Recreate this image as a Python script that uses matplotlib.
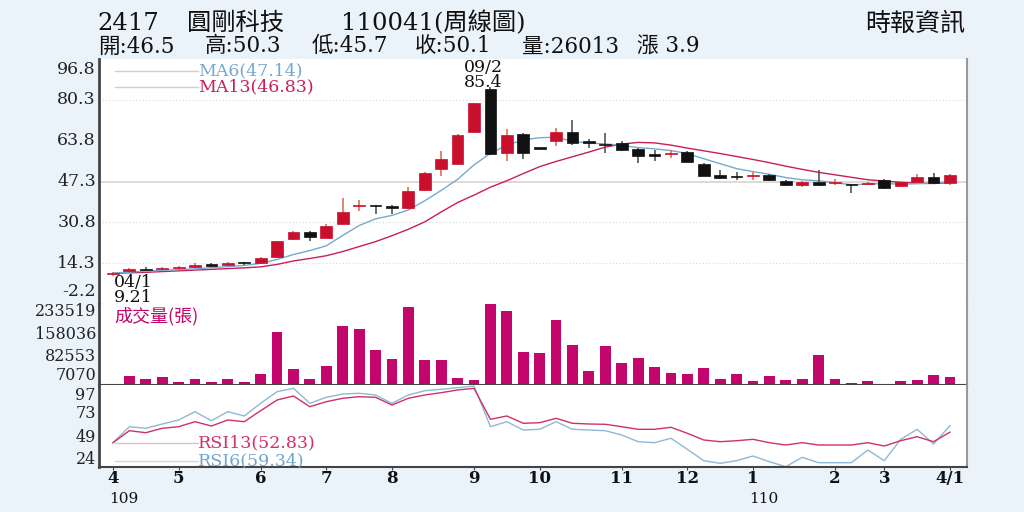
import matplotlib
matplotlib.use("Agg")
import matplotlib.pyplot as plt
from matplotlib.transforms import blended_transform_factory

plt.rcParams['font.family'] = ['DejaVu Serif', 'Noto Sans CJK TC']

# weekly bars, 109/04 .. 110/04
opens = [10.0, 11.0, 12.0, 11.8, 12.4, 12.6, 13.9, 13.6, 14.4, 14.3,
         16.7, 24.1, 27.0, 24.6, 30.3, 37.2, 37.7, 37.6, 36.5, 43.9,
         52.2, 54.4, 67.4, 84.7, 59.0, 66.5, 60.9, 63.7, 67.4, 63.7,
         62.3, 63.0, 60.4, 58.3, 58.4, 59.4, 54.4, 49.9, 49.4, 49.6,
         49.9, 47.5, 45.9, 47.1, 46.8, 46.0, 46.3, 47.9, 45.5, 47.1,
         49.0, 46.5]
highs = [10.8, 12.2, 12.6, 12.7, 13.0, 14.3, 14.5, 14.9, 14.9, 16.8,
         23.3, 27.3, 27.5, 30.0, 40.5, 39.8, 38.0, 37.9, 45.2, 51.2,
         59.6, 66.3, 79.2, 85.4, 68.4, 67.0, 61.0, 69.0, 72.2, 64.3,
         67.0, 63.5, 60.8, 60.0, 60.0, 59.8, 54.8, 52.0, 51.1, 51.0,
         50.3, 48.0, 47.5, 52.0, 48.2, 46.3, 47.2, 48.2, 47.3, 50.3,
         50.9, 50.3]
lows = [9.21, 10.8, 11.0, 11.5, 12.0, 12.4, 12.7, 13.2, 13.7, 14.0,
        16.5, 23.5, 23.2, 24.3, 30.0, 35.5, 34.2, 34.0, 36.0, 43.5,
        49.7, 54.0, 67.0, 58.0, 55.7, 56.2, 60.4, 61.6, 62.0, 61.0,
        58.7, 59.5, 54.7, 55.5, 56.6, 55.0, 49.4, 48.5, 47.9, 48.0,
        47.5, 45.5, 45.2, 45.5, 45.9, 42.8, 46.0, 44.2, 45.2, 46.8,
        46.3, 45.7]
closes = [10.5, 11.8, 11.4, 12.4, 12.6, 13.7, 13.1, 14.5, 14.2, 16.5,
          23.1, 26.8, 24.8, 29.5, 35.1, 37.6, 37.3, 36.4, 43.5, 50.9,
          56.3, 66.0, 78.9, 58.4, 66.1, 59.0, 60.6, 67.2, 63.0, 62.9,
          61.9, 60.0, 57.6, 57.8, 58.9, 55.3, 49.7, 48.7, 49.2, 50.0,
          48.0, 45.9, 47.2, 45.8, 47.1, 45.7, 46.8, 44.6, 47.0, 49.2,
          46.6, 50.1]
ma6 = [10.2, 10.7, 11.1, 11.4, 11.7, 12.0, 12.5, 12.9, 13.4, 14.2,
       15.8, 17.8, 19.4, 21.3, 25.5, 29.5, 32.2, 33.6, 35.8, 39.5,
       43.7, 48.2, 54.0, 58.7, 62.0, 64.1, 65.0, 65.2, 63.5, 62.8,
       62.5, 61.9, 61.0, 60.5, 59.8, 58.6, 56.5, 54.5, 52.5, 51.3,
       50.2, 48.9, 48.0, 47.6, 46.8, 46.0, 46.2, 46.5, 46.2, 46.4,
       46.6, 47.14]
ma13 = [10.2, 10.4, 10.6, 10.9, 11.2, 11.5, 11.8, 12.1, 12.4, 12.8,
        13.8, 15.2, 16.2, 17.3, 19.0, 21.0, 23.0, 25.4, 28.0, 31.0,
        35.0, 38.8, 41.8, 45.0, 47.6, 50.5, 53.3, 55.4, 57.3, 59.2,
        61.2, 62.4, 63.1, 62.9, 62.0, 60.8, 59.7, 58.6, 57.4, 56.2,
        54.9, 53.5, 52.2, 51.0, 50.0, 49.0, 48.0, 47.5, 47.0, 46.6,
        46.5, 46.83]
volume = [0, 28500, 18000, 25300, 10800, 18000, 8600, 18000, 8600, 36100,
          167900, 52000, 19000, 59200, 186000, 176500, 112100, 82400, 246200, 80500,
          78200, 21200, 14900, 258000, 233500, 104500, 101400, 207200, 125800, 44400,
          122600, 71000, 85500, 57000, 39300, 36100, 55100, 20300, 36100, 12700,
          27600, 17100, 20300, 94100, 20300, 6300, 11700, 0, 11700, 17100,
          30700, 26013]
rsi6 = [42.3, 58.3, 56.7, 61, 65, 73.3, 64.3, 73.3, 69, 81.7,
        93.3, 96.7, 81.7, 87.7, 91, 91.7, 90, 81.7, 90, 94.3,
        95.7, 97.3, 99, 58.3, 63.3, 55, 55.7, 63.3, 55.7, 55,
        54.3, 50, 43.3, 42.3, 46.7, 35.7, 24.3, 21.7, 24.3, 29,
        23.3, 18.3, 27.7, 22.3, 22.3, 22.3, 35, 24.3, 45.7, 55.7,
        41, 59.34]
rsi13 = [42.3, 54.3, 52.3, 56.7, 58.3, 63.3, 59, 65, 63.3, 74.3,
         85, 89, 78.3, 83.3, 86.7, 88.3, 87.7, 80, 86.7, 90,
         92.3, 95, 96.7, 65.7, 69, 61.7, 62.3, 66.7, 61.7, 61,
         60.7, 58.3, 55.7, 55.7, 57.7, 51.7, 45, 43.3, 44.3, 45.7,
         42.3, 40, 42.3, 40, 40, 40, 42.3, 39, 44.3, 48.3,
         43.3, 52.83]

price_ticks = [96.8, 80.3, 63.8, 47.3, 30.8, 14.3, -2.2]
price_grid = [80.3, 47.3, 30.8, 14.3]
vol_ticks = [233519, 158036, 82553, 7070]
rsi_ticks = [97, 73, 49, 24]
month_pos = [0, 4, 9, 13, 17, 22, 26, 31, 35, 39, 44, 47, 51]
month_labels = ['4', '5', '6', '7', '8', '9', '10', '11', '12', '1', '2', '3', '4/1']

RED = '#c8102e'
BLACK = '#111111'
C_MA6 = '#74aad0'
C_MA13 = '#c81e5a'
C_VOL = '#c2066b'

x = list(range(len(closes)))

fig = plt.figure(figsize=(10.24, 5.12), dpi=100, facecolor='#eaf2fa')
L, W = 99 / 1024, 868 / 1024
ax1 = fig.add_axes([L, 1 - 304 / 512, W, 245 / 512])
ax2 = fig.add_axes([L, 1 - 385 / 512, W, 81 / 512], sharex=ax1)
ax3 = fig.add_axes([L, 1 - 467 / 512, W, 82 / 512], sharex=ax1)

for ax in (ax1, ax2, ax3):
    ax.set_facecolor('white')
    ax.spines['top'].set_visible(False)
    ax.spines['left'].set_color('#444444')
    ax.spines['left'].set_linewidth(2)
    ax.spines['right'].set_color('#999999')
    ax.spines['right'].set_linewidth(1.5)
    ax.tick_params(axis='y', length=0, labelleft=False)
    ax.tick_params(axis='x', length=0)
ax1.spines['bottom'].set_color('#d0d0d0')
ax1.spines['bottom'].set_linewidth(0.8)
ax2.spines['bottom'].set_color('#444444')
ax2.spines['bottom'].set_linewidth(1.5)
ax3.spines['bottom'].set_color('#444444')
ax3.spines['bottom'].set_linewidth(1.5)


def side_labels(ax, ticks, nudges, size):
    # value labels left of the panel, nudged a few pixels like the source
    tr = blended_transform_factory(ax.transAxes, ax.transData)
    for t, dy in zip(ticks, nudges):
        ax.annotate(str(t), xy=(0, t), xycoords=tr, xytext=(-3, dy),
                    textcoords='offset pixels', ha='right', va='center',
                    fontsize=size, color='#222222', annotation_clip=False)


# ---- price panel
for g in price_grid:
    if g == 47.3:
        ax1.axhline(g, color='#dcd2cb', lw=1.2, zorder=0)
    else:
        ax1.axhline(g, color='#d8d8d8', lw=0.8, ls=(0, (1, 2)), zorder=0)

ax1.plot(x, ma13, color=C_MA13, lw=1.0, zorder=2)
ax1.plot(x, ma6, color=C_MA6, lw=1.0, zorder=2)

for i in x:
    o, h, l, c = opens[i], highs[i], lows[i], closes[i]
    up = c >= o
    body = RED if up else BLACK
    wick = '#e0704a' if up else '#555555'
    ax1.vlines(i, l, h, color=wick, lw=1.2, zorder=3)
    ax1.bar(i, max(abs(c - o), 0.5), bottom=min(o, c), width=0.72,
            color=body, edgecolor=body, lw=0.5, zorder=4)

ax1.set_ylim(-2.2, 96.8)
ax1.set_xlim(-0.85, 52.04)
ax1.set_yticks(price_ticks)
side_labels(ax1, price_ticks, [-10, 0, 0, 0, 0, 0, 12], 12.5)

ax1.annotate('09/2\n85.4', xy=(23, 85.4), xytext=(-5, 0), textcoords='offset points',
             ha='center', va='baseline', fontsize=12.5, linespacing=0.84,
             color='#111111')
ax1.annotate('04/1\n9.21', xy=(0, 9.21), xytext=(1, 1.5), textcoords='offset points',
             ha='left', va='top', fontsize=12.5, linespacing=0.85, color='#111111',
             annotation_clip=False, zorder=10)

ax1.plot([0.018, 0.114], [0.951, 0.951], transform=ax1.transAxes, color='#d0d0d0', lw=1)
ax1.plot([0.018, 0.114], [0.886, 0.886], transform=ax1.transAxes, color='#d0d0d0', lw=1)
ax1.text(0.114, 0.951, 'MA6(47.14)', transform=ax1.transAxes, color=C_MA6,
         fontsize=12.5, va='center', ha='left')
ax1.text(0.114, 0.886, 'MA13(46.83)', transform=ax1.transAxes, color=C_MA13,
         fontsize=12.5, va='center', ha='left')

# ---- volume panel
ax2.bar(x, volume, width=0.66, color=C_VOL, zorder=2)
ax2.set_ylim(0, 257000)
ax2.set_yticks(vol_ticks)
side_labels(ax2, vol_ticks, [0, 1, 2, 7], 11.5)
ax2.text(0.018, 0.85, '成交量(張)', transform=ax2.transAxes, color=C_VOL,
         fontsize=13, va='center', ha='left', family=['Noto Sans CJK TC'])

# ---- RSI panel
ax3.plot(x, rsi6, color='#8fb8d6', lw=1.0, zorder=2)
ax3.plot(x, rsi13, color='#d0306a', lw=1.0, zorder=3)
ax3.set_ylim(18, 100)
ax3.set_yticks(rsi_ticks)
side_labels(ax3, rsi_ticks, [-7, -2, -2, 1], 11.5)
ax3.plot([0.018, 0.114], [0.293, 0.293], transform=ax3.transAxes, color='#e0c0cc', lw=1)
ax3.plot([0.018, 0.114], [0.073, 0.073], transform=ax3.transAxes, color='#c8dae6', lw=1)
ax3.text(0.114, 0.293, 'RSI13(52.83)', transform=ax3.transAxes, color='#d0306a',
         fontsize=12.5, va='center', ha='left')
ax3.text(0.114, 0.073, 'RSI6(59.34)', transform=ax3.transAxes, color='#6fa6cc',
         fontsize=12.5, va='center', ha='left')

ax3.set_xticks(month_pos)
ax3.set_xticklabels(month_labels, fontsize=12, fontweight='bold', color='#111111')
ax3.tick_params(axis='x', length=2, pad=0, color='#444444')
plt.setp(ax1.get_xticklabels(), visible=False)
plt.setp(ax2.get_xticklabels(), visible=False)
ax3.text(-0.25, -0.385, '109', transform=ax3.get_xaxis_transform(), fontsize=11,
         ha='left', va='center', color='#111111')
ax3.text(38.75, -0.385, '110', transform=ax3.get_xaxis_transform(), fontsize=11,
         ha='left', va='center', color='#111111')

# ---- header
title_parts = [('2417', 97), ('圓剛科技', 187), ('110041(周線圖)', 341)]
quote_parts = [('開:46.5', 98), ('高:50.3', 205), ('低:45.7', 312),
               ('收:50.1', 415), ('量:26013', 522), ('漲 3.9', 637)]
for s, px in title_parts:
    fig.text(px / 1024, 1 - 23 / 512, s, fontsize=17.5, ha='left', va='center',
             color='#111111')
for s, px in quote_parts:
    fig.text(px / 1024, 1 - 46.5 / 512, s, fontsize=15.5, ha='left', va='center',
             color='#111111')
fig.text(965 / 1024, 1 - 24 / 512, '時報資訊', fontsize=18, ha='right', va='center',
         color='#111111', family=['Noto Sans CJK TC'])

fig.savefig('out.png', dpi=100, facecolor=fig.get_facecolor())
